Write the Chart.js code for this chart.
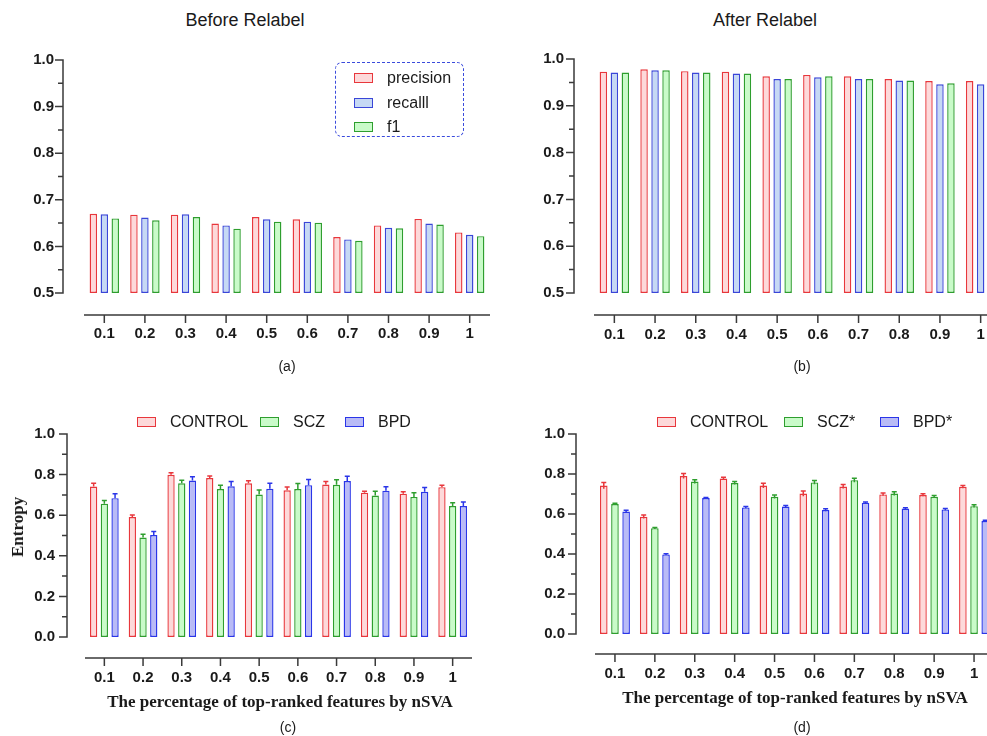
<!DOCTYPE html>
<html>
<head>
<meta charset="utf-8">
<script src="https://cdn.jsdelivr.net/npm/chart.js@4.4.1/dist/chart.umd.min.js"></script>
<style>
  html, body { margin: 0; padding: 0; background: #fff; width: 987px; height: 736px; overflow: hidden; }
  body { position: relative; font-family: "Liberation Sans", Arial, sans-serif; color: #1a1a1a; }
  canvas { position: absolute; }
  .c { position: absolute; white-space: nowrap; transform: translate(-50%, -50%); }
  .l { position: absolute; white-space: nowrap; transform: translateY(-50%); font-size: 16px; }
  .sw { position: absolute; width: 17px; height: 8px; transform: translateY(-50%); border: 1.5px solid; }
  .head { font-size: 18px; }
  .cap { font-size: 14px; }
  .xt { font-family: "Liberation Serif", "Times New Roman", serif; font-weight: bold; font-size: 17px; }
  .box { position: absolute; left: 335px; top: 62px; width: 127px; height: 73px; border: 1.5px dashed #3b4bdc; border-radius: 7px; }
</style>
</head>
<body>

<div class="c head" style="left:245px; top:20px;">Before Relabel</div>
<div class="c head" style="left:765px; top:20px;">After Relabel</div>

<canvas id="chartA" width="490" height="380" style="left:0; top:0;"></canvas>
<canvas id="chartB" width="506" height="380" style="left:495px; top:0;"></canvas>
<canvas id="chartC" width="490" height="340" style="left:0; top:395px;"></canvas>
<canvas id="chartD" width="505" height="340" style="left:495px; top:395px;"></canvas>

<div class="box"></div>
<div class="sw" style="left:354px; top:78px; border-color:#e8373c; background:#fdd9da;"></div>
<div class="l" style="left:387px; top:78px;">precision</div>
<div class="sw" style="left:354px; top:103px; border-color:#3a46d8; background:#c6d9f4;"></div>
<div class="l" style="left:387px; top:103px;">recalll</div>
<div class="sw" style="left:354px; top:127px; border-color:#2e9e2e; background:#c9fbc9;"></div>
<div class="l" style="left:387px; top:127px;">f1</div>

<div class="sw" style="left:137px; top:422px; border-color:#e8373c; background:#fdd9da;"></div>
<div class="l" style="left:170px; top:422px;">CONTROL</div>
<div class="sw" style="left:260px; top:422px; border-color:#2e9e2e; background:#c9fbc9;"></div>
<div class="l" style="left:293px; top:422px;">SCZ</div>
<div class="sw" style="left:345px; top:422px; border-color:#2a35e8; background:#b9bbf6;"></div>
<div class="l" style="left:378px; top:422px;">BPD</div>

<div class="sw" style="left:657px; top:422px; border-color:#e8373c; background:#fdd9da;"></div>
<div class="l" style="left:690px; top:422px;">CONTROL</div>
<div class="sw" style="left:784px; top:422px; border-color:#2e9e2e; background:#c9fbc9;"></div>
<div class="l" style="left:817px; top:422px;">SCZ*</div>
<div class="sw" style="left:880px; top:422px; border-color:#2a35e8; background:#b9bbf6;"></div>
<div class="l" style="left:913px; top:422px;">BPD*</div>

<div class="c xt" style="left:18px; top:527px; transform:translate(-50%,-50%) rotate(-90deg);">Entropy</div>
<div class="c xt" style="left:280px; top:702px;">The percentage of top-ranked features by nSVA</div>
<div class="c xt" style="left:795px; top:698px;">The percentage of top-ranked features by nSVA</div>

<div class="c cap" style="left:287px; top:366px;">(a)</div>
<div class="c cap" style="left:802px; top:366px;">(b)</div>
<div class="c cap" style="left:288px; top:727px;">(c)</div>
<div class="c cap" style="left:802px; top:727px;">(d)</div>

<script>
var percents = ['0.1', '0.2', '0.3', '0.4', '0.5', '0.6', '0.7', '0.8', '0.9', '1'];

// (a) before relabel
var beforePrecision = [0.670, 0.668, 0.668, 0.649, 0.663, 0.658, 0.620, 0.645, 0.659, 0.630];
var beforeRecall    = [0.669, 0.662, 0.669, 0.645, 0.658, 0.653, 0.615, 0.640, 0.649, 0.625];
var beforeF1        = [0.660, 0.656, 0.663, 0.638, 0.653, 0.651, 0.612, 0.639, 0.647, 0.622];

// (b) after relabel
var afterPrecision = [0.973, 0.978, 0.974, 0.973, 0.963, 0.966, 0.963, 0.957, 0.953, 0.953];
var afterRecall    = [0.971, 0.976, 0.971, 0.969, 0.957, 0.961, 0.957, 0.954, 0.946, 0.946];
var afterF1        = [0.971, 0.976, 0.971, 0.969, 0.957, 0.963, 0.957, 0.954, 0.948, 0.947];

// (c) entropy
var entControl    = [0.741, 0.591, 0.799, 0.783, 0.757, 0.723, 0.751, 0.711, 0.706, 0.738];
var entControlErr = [0.016, 0.010, 0.010, 0.010, 0.013, 0.016, 0.015, 0.007, 0.009, 0.009];
var entScz        = [0.657, 0.490, 0.757, 0.729, 0.702, 0.729, 0.750, 0.697, 0.690, 0.645];
var entSczErr     = [0.016, 0.016, 0.015, 0.018, 0.022, 0.027, 0.025, 0.021, 0.021, 0.016];
var entBpd        = [0.684, 0.502, 0.771, 0.742, 0.730, 0.748, 0.768, 0.721, 0.715, 0.645];
var entBpdErr     = [0.022, 0.018, 0.019, 0.024, 0.028, 0.028, 0.024, 0.019, 0.021, 0.020];

// (d) entropy after relabel
var relControl    = [0.742, 0.586, 0.790, 0.777, 0.742, 0.702, 0.737, 0.698, 0.695, 0.736];
var relControlErr = [0.016, 0.009, 0.012, 0.007, 0.012, 0.013, 0.010, 0.007, 0.006, 0.007];
var relScz        = [0.650, 0.529, 0.762, 0.755, 0.686, 0.758, 0.769, 0.702, 0.686, 0.639];
var relSczErr     = [0.004, 0.004, 0.009, 0.007, 0.009, 0.009, 0.010, 0.009, 0.006, 0.007];
var relBpd        = [0.612, 0.398, 0.680, 0.633, 0.637, 0.620, 0.656, 0.627, 0.623, 0.565];
var relBpdErr     = [0.007, 0.003, 0.003, 0.004, 0.006, 0.006, 0.004, 0.004, 0.004, 0.004];

var RED = { fill: '#fdd9da', line: '#e8373c' };
var BLUE = { fill: '#c6d9f4', line: '#3a46d8' };
var GREEN = { fill: '#c9fbc9', line: '#2e9e2e' };
var LAVENDER = { fill: '#b9bbf6', line: '#2a35e8' };

Chart.defaults.font.family = '"Liberation Sans", Arial, sans-serif';
Chart.defaults.color = '#1a1a1a';

// prism style axes: detached x axis line, y axis line left of the plot
var prismAxes = {
  id: 'prismAxes',
  afterDraw: function(chart, args, opts) {
    var ctx = chart.ctx, area = chart.chartArea;
    var xs = chart.scales.x, ys = chart.scales.y;
    ctx.save();
    ctx.strokeStyle = '#3a3a3a';
    ctx.lineWidth = 1.5;
    ctx.beginPath();
    var ax = area.left - opts.yGap;
    ctx.moveTo(ax, ys.getPixelForValue(ys.max) - 0.75);
    ctx.lineTo(ax, ys.getPixelForValue(ys.min) + 0.75);
    ys.ticks.forEach(function(t) {
      var py = ys.getPixelForValue(t.value);
      ctx.moveTo(ax - 8, py);
      ctx.lineTo(ax, py);
    });
    for (var k = 0; ys.min + opts.minorStep * (2 * k + 1) < ys.max; k++) {
      var my = ys.getPixelForValue(ys.min + opts.minorStep * (2 * k + 1));
      ctx.moveTo(ax - 5, my);
      ctx.lineTo(ax, my);
    }
    var ay = area.bottom + opts.xGap;
    ctx.moveTo(area.left, ay);
    ctx.lineTo(area.right, ay);
    for (var i = 0; i < chart.data.labels.length; i++) {
      var px = xs.getPixelForValue(i);
      ctx.moveTo(px, ay);
      ctx.lineTo(px, ay + 8);
    }
    ctx.stroke();
    ctx.restore();
  }
};

var errorBars = {
  id: 'errorBars',
  afterDatasetsDraw: function(chart) {
    var ctx = chart.ctx, ys = chart.scales.y;
    chart.data.datasets.forEach(function(ds, i) {
      if (!ds.errors) return;
      var meta = chart.getDatasetMeta(i);
      ctx.save();
      ctx.strokeStyle = ds.borderColor;
      ctx.lineWidth = 1.5;
      meta.data.forEach(function(bar, j) {
        var v = ds.data[j], e = ds.errors[j];
        var top = ys.getPixelForValue(v + e);
        var bottom = ds.twoSided ? ys.getPixelForValue(v - e) : bar.y;
        ctx.beginPath();
        ctx.moveTo(bar.x, bottom);
        ctx.lineTo(bar.x, top);
        ctx.moveTo(bar.x - 2.5, top);
        ctx.lineTo(bar.x + 2.5, top);
        ctx.stroke();
      });
      ctx.restore();
    });
  }
};

function series(data, col, base, errors, twoSided) {
  return {
    data: data,
    base: base,
    backgroundColor: col.fill,
    borderColor: col.line,
    borderWidth: 1.4,
    borderSkipped: false,
    errors: errors,
    twoSided: twoSided
  };
}

function makeChart(id, datasets, lay) {
  return new Chart(document.getElementById(id), {
    type: 'bar',
    data: { labels: percents, datasets: datasets },
    options: {
      responsive: false,
      animation: false,
      datasets: { bar: { categoryPercentage: lay.cat, barPercentage: 0.68 } },
      layout: { padding: { top: lay.top, right: lay.right, bottom: lay.bottom, left: 0 } },
      plugins: {
        legend: { display: false },
        tooltip: { enabled: false },
        prismAxes: { yGap: lay.yGap, xGap: lay.xGap, minorStep: lay.minor }
      },
      scales: {
        x: {
          grid: { display: false, drawTicks: false },
          border: { display: false },
          // tall line height pushes the labels down below the detached axis line
          ticks: { font: { size: 15, weight: 'bold', lineHeight: (2 * lay.xLab) + 'px' }, padding: 0, maxRotation: 0, autoSkip: false },
          afterFit: function(s) { s.height = 60; }
        },
        y: {
          min: lay.min,
          max: 1,
          grid: { display: false, drawTicks: false },
          border: { display: false },
          ticks: {
            stepSize: lay.step,
            font: { size: 15, weight: 'bold' },
            padding: 30,
            callback: function(v) { return Number(v).toFixed(1); }
          },
          afterFit: function(s) { s.width = lay.yWidth; }
        }
      }
    },
    plugins: [prismAxes, errorBars]
  });
}

makeChart('chartA', [
  series(beforePrecision, RED, 0.5),
  series(beforeRecall, BLUE, 0.5),
  series(beforeF1, GREEN, 0.5)
], { top: 60, right: 0, bottom: 27, yWidth: 84, yGap: 21, xGap: 22, xLab: 41, cat: 0.81, min: 0.5, step: 0.1, minor: 0.05 });

makeChart('chartB', [
  series(afterPrecision, RED, 0.5),
  series(afterRecall, BLUE, 0.5),
  series(afterF1, GREEN, 0.5)
], { top: 59, right: 0, bottom: 27, yWidth: 99, yGap: 20, xGap: 22, xLab: 42, cat: 0.81, min: 0.5, step: 0.1, minor: 0.05 });

makeChart('chartC', [
  series(entControl, RED, 0, entControlErr, false),
  series(entScz, GREEN, 0, entSczErr, false),
  series(entBpd, LAVENDER, 0, entBpdErr, false)
], { top: 20, right: 18, bottom: 38, yWidth: 85, yGap: 18, xGap: 21, xLab: 41, cat: 0.83, min: 0, step: 0.2, minor: 0.1 });

makeChart('chartD', [
  series(relControl, RED, 0, relControlErr, true),
  series(relScz, GREEN, 0, relSczErr, true),
  series(relBpd, LAVENDER, 0, relBpdErr, true)
], { top: 12, right: 6, bottom: 41, yWidth: 100, yGap: 19, xGap: 20, xLab: 40, cat: 0.84, min: 0, step: 0.2, minor: 0.1 });
</script>
</body>
</html>
